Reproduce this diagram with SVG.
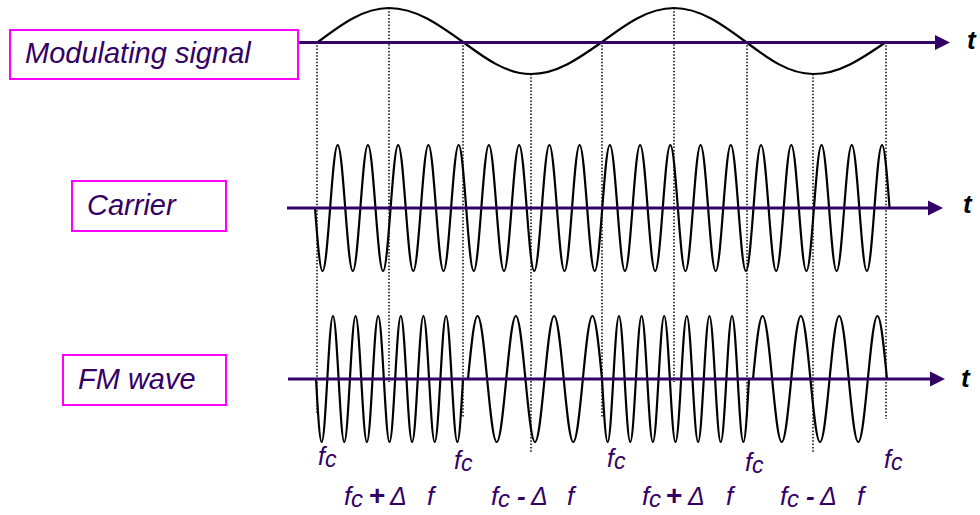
<svg xmlns="http://www.w3.org/2000/svg" xmlns:xlink="http://www.w3.org/1999/xlink" width="980" height="515" viewBox="0 0 980 515">
<style>
.box{fill:#fff;stroke:#ff00ff;stroke-width:2}
.lbl{font-family:"Liberation Sans",Arial,sans-serif;font-style:italic;font-size:29px;fill:#330066}
.tt{font-family:"Liberation Sans",Arial,sans-serif;font-style:italic;font-weight:bold;font-size:26px;fill:#000}
.fq{font-family:"Liberation Sans",Arial,sans-serif;font-style:italic;font-size:25px;fill:#330066}
.dl{font-size:25px}
.wave{fill:none;stroke:#000;stroke-width:2.2;stroke-linecap:round;stroke-linejoin:round}
.guide{fill:none;stroke:#000;stroke-width:1.5;stroke-dasharray:1.5 1.8}
.axis{stroke:#330066;stroke-width:3}
.head{fill:#330066}
</style>
<defs>
<path id="carCyc" d="M0,0 c2.465,32.27 4.824,63 7.56,63 s5.095,-30.73 7.56,-63 s4.824,-63 7.56,-63 s5.095,30.73 7.56,63"/>
<path id="hiCyc" d="M0,0 c1.844,32.27 3.608,63 5.654,63 s3.81,-30.73 5.654,-63 s3.608,-63 5.654,-63 s3.81,30.73 5.654,63"/>
<path id="hiHalf" d="M0,0 c1.844,32.27 3.608,63 5.654,63 s3.81,-30.73 5.654,-63"/>
<path id="loCyc" d="M0,0 c3.121,-32.27 6.107,-63 9.571,-63 s6.45,30.73 9.571,63 s6.107,63 9.571,63 s6.45,-30.73 9.571,-63"/>
<path id="loHalf" d="M0,0 c3.121,-32.27 6.107,-63 9.571,-63 s6.45,30.73 9.571,63"/>
</defs>

<g id="waves" class="wave">
<path id="modulating-wave" d="M318,42 C341.15,24.6 363.3,8 389,8 C415.78,8 438.87,24.6 463,42 C485.17,58.4 506.39,74 531,74 C556.69,74 578.85,58.4 602,42 C625.48,24.6 647.94,8 674,8 C700.06,8 722.52,24.6 746,42 C767.85,58.4 788.75,74 813,74 C839.42,74 862.19,58.4 886,42"/>
<g id="carrier-wave">
<use xlink:href="#carCyc" x="315" y="208"/>
<use xlink:href="#carCyc" x="345.24" y="208"/>
<use xlink:href="#carCyc" x="375.48" y="208"/>
<use xlink:href="#carCyc" x="405.72" y="208"/>
<use xlink:href="#carCyc" x="435.96" y="208"/>
<use xlink:href="#carCyc" x="466.2" y="208"/>
<use xlink:href="#carCyc" x="496.44" y="208"/>
<use xlink:href="#carCyc" x="526.68" y="208"/>
<use xlink:href="#carCyc" x="556.92" y="208"/>
<use xlink:href="#carCyc" x="587.16" y="208"/>
<use xlink:href="#carCyc" x="617.4" y="208"/>
<use xlink:href="#carCyc" x="647.64" y="208"/>
<use xlink:href="#carCyc" x="677.88" y="208"/>
<use xlink:href="#carCyc" x="708.12" y="208"/>
<use xlink:href="#carCyc" x="738.36" y="208"/>
<use xlink:href="#carCyc" x="768.6" y="208"/>
<use xlink:href="#carCyc" x="798.84" y="208"/>
<use xlink:href="#carCyc" x="829.08" y="208"/>
<use xlink:href="#carCyc" x="859.32" y="208"/>
</g>
<g id="fm-wave">
<use xlink:href="#hiCyc" x="316" y="379"/>
<use xlink:href="#hiCyc" x="338.615" y="379"/>
<use xlink:href="#hiCyc" x="361.23" y="379"/>
<use xlink:href="#hiCyc" x="383.845" y="379"/>
<use xlink:href="#hiCyc" x="406.46" y="379"/>
<use xlink:href="#hiCyc" x="429.075" y="379"/>
<use xlink:href="#hiHalf" x="451.69" y="379"/>
<use xlink:href="#loCyc" x="468" y="379"/>
<use xlink:href="#loCyc" x="506.286" y="379"/>
<use xlink:href="#loCyc" x="544.571" y="379"/>
<use xlink:href="#loHalf" x="582.857" y="379"/>
<use xlink:href="#hiCyc" x="602" y="379"/>
<use xlink:href="#hiCyc" x="624.615" y="379"/>
<use xlink:href="#hiCyc" x="647.23" y="379"/>
<use xlink:href="#hiCyc" x="669.845" y="379"/>
<use xlink:href="#hiCyc" x="692.46" y="379"/>
<use xlink:href="#hiCyc" x="715.075" y="379"/>
<use xlink:href="#hiHalf" x="737.69" y="379"/>
<use xlink:href="#loCyc" x="753" y="379"/>
<use xlink:href="#loCyc" x="791.286" y="379"/>
<use xlink:href="#loCyc" x="829.571" y="379"/>
<use xlink:href="#loHalf" x="867.857" y="379"/>
</g>
</g>

<g id="guides" class="guide">
<line x1="317" y1="42" x2="317" y2="415"/>
<line x1="389" y1="8" x2="389" y2="382"/>
<line x1="463" y1="42" x2="463" y2="417"/>
<line x1="531" y1="74" x2="531" y2="452"/>
<line x1="602" y1="42" x2="602" y2="417"/>
<line x1="674" y1="8" x2="674" y2="382"/>
<line x1="747" y1="42" x2="747" y2="418"/>
<line x1="813" y1="74" x2="813" y2="452"/>
<line x1="886" y1="42" x2="886" y2="419"/>
</g>

<g id="connectors">
<line class="axis" x1="296" y1="42.5" x2="937" y2="42.5"/>
<polygon class="head" points="935,35 950,42.5 935,50"/>
<line class="axis" x1="287" y1="208" x2="930" y2="208"/>
<polygon class="head" points="928,200.5 943,208 928,215.5"/>
<line class="axis" x1="288" y1="379" x2="932" y2="379"/>
<polygon class="head" points="930,371.5 945,379 930,386.5"/>
</g>

<g id="node-modulating">
<rect class="box" x="10" y="30" width="288" height="49"/>
<text class="lbl" x="25" y="63">Modulating signal</text>
</g>
<g id="node-carrier">
<rect class="box" x="72" y="181" width="154" height="50"/>
<text class="lbl" x="87" y="215">Carrier</text>
</g>
<g id="node-fm">
<rect class="box" x="63" y="355" width="163" height="50"/>
<text class="lbl" x="78" y="389">FM wave</text>
</g>

<g id="time-labels" class="tt">
<text x="967" y="49">t</text>
<text x="963" y="213">t</text>
<text x="961" y="387">t</text>
</g>

<g id="freq-labels" class="fq">
<text x="318" y="465">f<tspan font-size="23" dy="2">c</tspan></text>
<text x="454" y="469">f<tspan font-size="23" dy="2">c</tspan></text>
<text x="607" y="467">f<tspan font-size="23" dy="2">c</tspan></text>
<text x="745" y="471">f<tspan font-size="23" dy="2">c</tspan></text>
<text x="884" y="468">f<tspan font-size="23" dy="2">c</tspan></text>

<text y="505" font-size="26"><tspan x="344">f</tspan><tspan x="351" dy="2" font-size="24">c</tspan><tspan x="369" dy="-2" font-size="28" font-weight="bold" font-style="normal">+</tspan><tspan x="390" class="dl">Δ</tspan><tspan x="427">f</tspan></text>
<text y="505" font-size="26"><tspan x="491">f</tspan><tspan x="498" dy="2" font-size="24">c</tspan><tspan x="517" dy="-2" font-weight="bold">-</tspan><tspan x="531" class="dl">Δ</tspan><tspan x="567">f</tspan></text>
<text y="505" font-size="26"><tspan x="642">f</tspan><tspan x="649" dy="2" font-size="24">c</tspan><tspan x="666" dy="-2" font-size="28" font-weight="bold" font-style="normal">+</tspan><tspan x="688" class="dl">Δ</tspan><tspan x="726">f</tspan></text>
<text y="505" font-size="26"><tspan x="780">f</tspan><tspan x="787" dy="2" font-size="24">c</tspan><tspan x="806" dy="-2" font-weight="bold">-</tspan><tspan x="820" class="dl">Δ</tspan><tspan x="857">f</tspan></text>
</g>
</svg>
